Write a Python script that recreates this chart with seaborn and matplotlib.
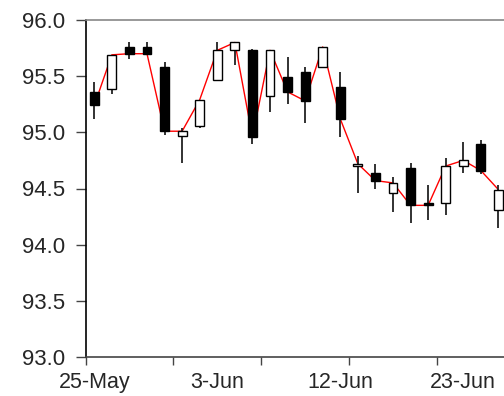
import numpy as np
import pandas as pd
import matplotlib
matplotlib.use("Agg")
import matplotlib.pyplot as plt
import seaborn as sns

# -------------------------------
# Daily prices
# -------------------------------
dates = ['25-May', '26-May', '27-May', '28-May', '29-May', '1-Jun', '2-Jun', '3-Jun',
         '4-Jun', '5-Jun', '8-Jun', '9-Jun', '10-Jun', '11-Jun', '12-Jun', '15-Jun',
         '16-Jun', '17-Jun', '18-Jun', '19-Jun', '22-Jun', '23-Jun', '24-Jun', '25-Jun']
open_ = [95.36, 95.39, 95.76, 95.76, 95.58, 94.97, 95.06, 95.47,
         95.73, 95.73, 95.32, 95.49, 95.54, 95.58, 95.40, 94.70,
         94.64, 94.46, 94.68, 94.37, 94.37, 94.70, 94.90, 94.31]
high = [95.45, 95.69, 95.80, 95.80, 95.63, 95.04, 95.29, 95.80,
        95.80, 95.74, 95.73, 95.67, 95.58, 95.76, 95.54, 94.79,
        94.72, 94.60, 94.73, 94.53, 94.77, 94.91, 94.93, 94.53]
low = [95.12, 95.34, 95.65, 95.70, 94.98, 94.73, 95.04, 95.46,
       95.60, 94.90, 95.18, 95.25, 95.08, 95.57, 94.96, 94.46,
       94.50, 94.29, 94.19, 94.22, 94.26, 94.64, 94.63, 94.15]
close = [95.24, 95.69, 95.70, 95.70, 95.01, 95.01, 95.29, 95.73,
         95.80, 94.96, 95.73, 95.36, 95.28, 95.76, 95.12, 94.72,
         94.57, 94.55, 94.35, 94.35, 94.70, 94.75, 94.66, 94.49]
label_every = 7

df = pd.DataFrame({'date': dates, 'open': open_, 'high': high,
                   'low': low, 'close': close})
df['pos'] = np.arange(len(df))
df['up'] = df['close'] >= df['open']

# ----------------------------------
# Figure
# ----------------------------------
sns.set_style("white")
plt.rcParams['font.family'] = ['Liberation Sans', 'DejaVu Sans']

fig = plt.figure(figsize=(5.04, 3.96), dpi=100)
ax = fig.add_axes([85.5 / 504, 39 / 396, 421.7 / 504, 337 / 396])

# close line
sns.lineplot(data=df, x='pos', y='close', color='red', lw=1, ax=ax, zorder=1)

# wicks
ax.vlines(df['pos'], df['low'], df['high'], color='#222222', lw=1.3, zorder=2)

# bodies
bottom = df[['open', 'close']].min(axis=1)
height = (df['close'] - df['open']).abs()
colors = np.where(df['up'], 'white', 'black')
ax.bar(df['pos'], height, bottom=bottom, width=0.5, color=colors,
       edgecolor='black', linewidth=1, zorder=3)

ax.set_xlim(-0.5, len(df) - 0.5)
ax.set_ylim(93.0, 96.0)
ax.set_yticks(np.arange(93.0, 96.01, 0.5))
ax.set_yticklabels([f"{v:.1f}" for v in np.arange(93.0, 96.01, 0.5)])

# tick marks on slot boundaries, labels on candles
ax.set_xticks(np.arange(-0.5, len(df), 5))
ax.set_xticklabels([])
ax.set_xticks(df['pos'][::label_every], minor=True)
ax.set_xticklabels(df['date'][::label_every], minor=True)
ax.tick_params(axis='x', which='major', direction='out', length=6, width=1,
               color='#444444', bottom=True)
ax.tick_params(axis='x', which='minor', length=0, pad=11, labelsize=15.5)
ax.tick_params(axis='y', direction='out', length=7, width=1, color='#444444',
               left=True, pad=8, labelsize=16)
ax.set_xlabel('')
ax.set_ylabel('')

for s in ['left', 'bottom', 'top']:
    ax.spines[s].set_visible(True)
ax.spines['left'].set_color('black')
ax.spines['bottom'].set_color('#444444')
ax.spines['top'].set_color('#888888')
ax.spines['right'].set_visible(False)
for s in ax.spines.values():
    s.set_linewidth(1.2)

fig.savefig('out.png', dpi=100)
